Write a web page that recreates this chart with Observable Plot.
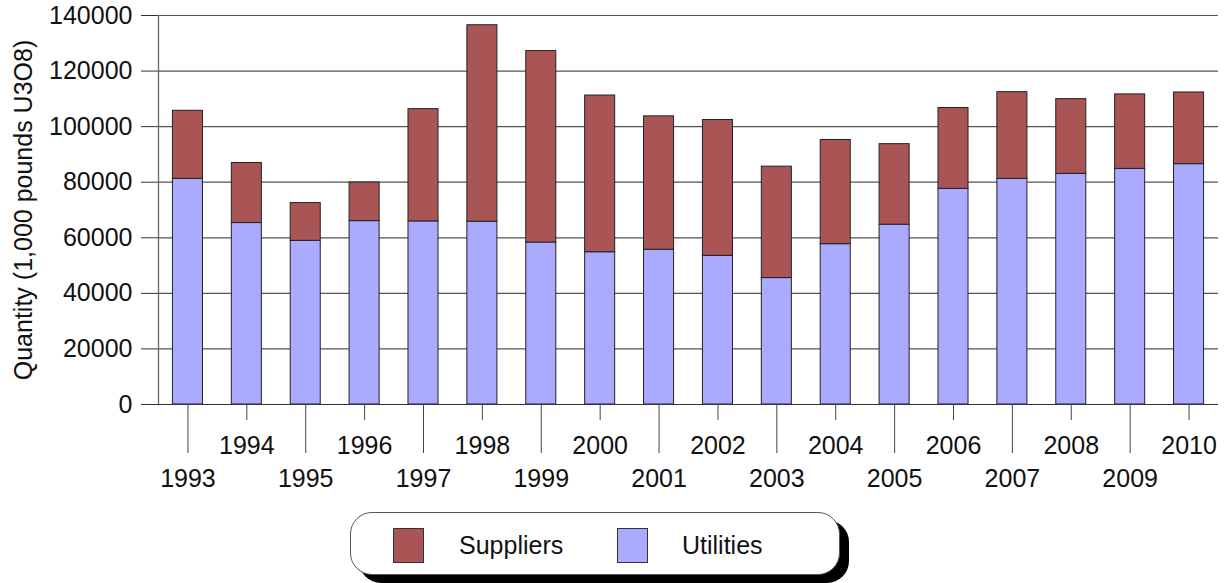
<!DOCTYPE html>
<html>
<head>
<meta charset="utf-8">
<script src="https://cdn.jsdelivr.net/npm/d3@7"></script>
<script src="https://cdn.jsdelivr.net/npm/@observablehq/plot@0.6"></script>
<style>
  html, body { margin: 0; padding: 0; background: #fff; }
  body { width: 1228px; height: 583px; position: relative; overflow: hidden; font-family: "Liberation Sans", Arial, sans-serif; }
  #chart { position: absolute; left: 0; top: 0; }
  #legend { position: absolute; left: 350px; top: 512px; width: 490px; height: 63px; box-sizing: border-box;
    border: 1px solid #555; border-radius: 22px; background: #fff; box-shadow: 9px 8px 0 #000; }
  .sw { position: absolute; top: 15px; width: 31px; height: 35px; box-sizing: border-box; border: 1px solid #333; }
  .lt { position: absolute; top: 15px; line-height: 35px; font-size: 25px; color: #111; }
</style>
</head>
<body>
<div id="chart"></div>
<div id="legend">
  <div class="sw" style="left:42px;background:#aa5555"></div>
  <div class="lt" style="left:108px">Suppliers</div>
  <div class="sw" style="left:266px;background:#aaaaff"></div>
  <div class="lt" style="left:331px">Utilities</div>
</div>
<script>
const years = ["1993","1994","1995","1996","1997","1998","1999","2000","2001","2002","2003","2004","2005","2006","2007","2008","2009","2010"];
const utilities = [81200, 65300, 58900, 66000, 65900, 65800, 58300, 54800, 55700, 53500, 45500, 57700, 64700, 77600, 81200, 83000, 84800, 86500];
const suppliers = [24500, 21600, 13600, 13900, 40400, 70700, 68900, 56400, 48000, 48900, 40100, 37500, 29000, 29100, 31200, 26900, 26800, 25800];
const seriesNames = ["Utilities", "Suppliers"];
const seriesColors = ["#aaaaff", "#aa5555"];
const yTicks = [0, 20000, 40000, 60000, 80000, 100000, 120000, 140000];
const yTitle = "Quantity (1,000 pounds U3O8)";

const rows = [];
years.forEach((y, i) => {
  rows.push({year: y, series: "Utilities", value: utilities[i]});
  rows.push({year: y, series: "Suppliers", value: suppliers[i]});
});
const oddYears = years.filter((d, i) => i % 2 === 0);
const evenYears = years.filter((d, i) => i % 2 === 1);

const chart = Plot.plot({
  width: 1228,
  height: 500,
  marginLeft: 158,
  marginRight: 10,
  marginTop: 15,
  marginBottom: 96,
  style: {fontFamily: "'Liberation Sans', Arial, sans-serif", fontSize: "25px", color: "#111", background: "#fff"},
  x: {type: "band", domain: years, paddingInner: 0.49, paddingOuter: 0.245, round: false, axis: null},
  y: {domain: [0, 140000], axis: null},
  color: {domain: seriesNames, range: seriesColors},
  marks: [
    Plot.gridY(yTicks, {stroke: "#555", strokeOpacity: 1, strokeWidth: 1.2}),
    Plot.axisY({ticks: yTicks, tickSize: 17, tickPadding: 9, tickFormat: d => String(d), fontSize: 25, label: null, stroke: "#333"}),
    Plot.frame({anchor: "left", stroke: "#666", strokeWidth: 1.3}),
    Plot.barY(rows, Plot.stackY({x: "year", y: "value", fill: "series", order: seriesNames, stroke: "#222", strokeWidth: 1})),
    Plot.ruleY([0], {stroke: "#333"}),
    Plot.axisX({ticks: oddYears, tickSize: 49, tickPadding: 16, fontSize: 25, label: null, stroke: "#444"}),
    Plot.axisX({ticks: evenYears, tickSize: 16, tickPadding: 16, fontSize: 25, label: null, stroke: "#444"}),
    Plot.text([yTitle], {frameAnchor: "left", dx: -135, rotate: -90, textAnchor: "middle", fontSize: 25, fill: "#111"})
  ]
});
document.getElementById("chart").appendChild(chart);
</script>
</body>
</html>
